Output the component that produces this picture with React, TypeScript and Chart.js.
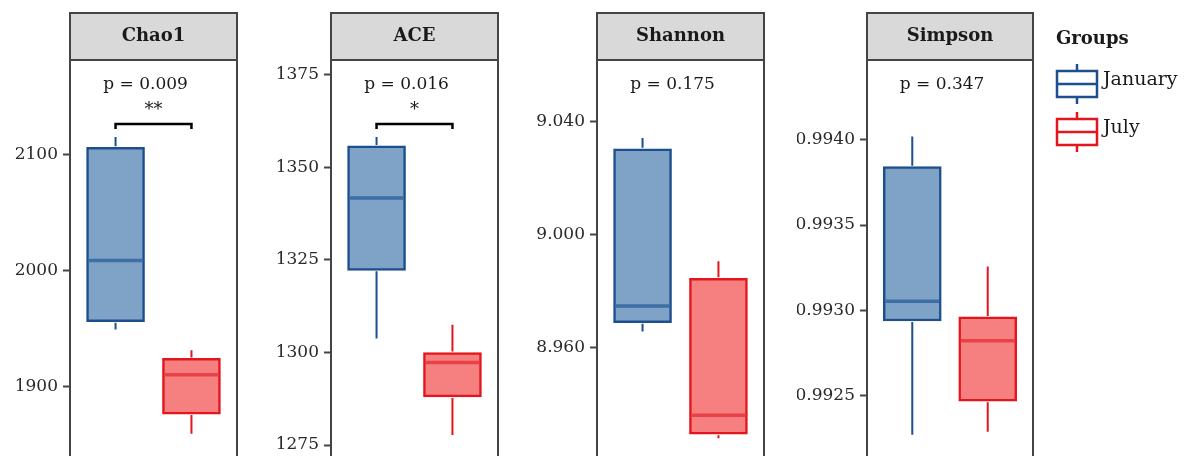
import React, { useEffect, useRef } from 'react';
import { Chart, registerables } from 'chart.js';

Chart.register(...registerables);

// ---------- data ----------
const groups = ['January', 'July'];
const panelTitles = ['Chao1', 'ACE', 'Shannon', 'Simpson'];
const pLabels = ['p = 0.009', 'p = 0.016', 'p = 0.175', 'p = 0.347'];
const signifLabels = ['**', '*', '', ''];

// five-number summaries: [min, q1, median, q3, max]
const chao1Jan = [1949, 1955.7, 2008.5, 2106, 2115];
const chao1Jul = [1859, 1876, 1910, 1924, 1931];
const aceJan = [1303.8, 1322.2, 1341.7, 1355.8, 1358.2];
const aceJul = [1277.7, 1288, 1297.3, 1300, 1307.5];
const shannonJan = [8.9658, 8.9689, 8.9748, 9.0304, 9.0342];
const shannonJul = [8.928, 8.9294, 8.9361, 8.9846, 8.9906];
const simpsonJan = [0.992267, 0.992936, 0.993052, 0.993843, 0.99402];
const simpsonJul = [0.992285, 0.992465, 0.99282, 0.99296, 0.993256];

const chao1Ticks = [1900, 2000, 2100];
const aceTicks = [1275, 1300, 1325, 1350, 1375];
const shannonTicks = [8.96, 9.0, 9.04];
const simpsonTicks = [0.9925, 0.993, 0.9935, 0.994];

const tickDecimals = [0, 0, 3, 4];
const yRanges = [
  [1832.3, 2181.3],
  [1269.67, 1379],
  [8.9186, 9.06183],
  [0.992091, 0.99447],
];

// ---------- styles ----------
const FONT = 'DejaVu Serif';
const janFill = 'rgba(127,163,199,1)';
const janBorder = '#1d4f8e';
const janMedian = '#3d6ea4';
const julFill = 'rgba(246,128,128,1)';
const julBorder = '#e3161d';
const julMedian = '#e84248';
const frameColor = '#444444';

const panels = [
  { title: panelTitles[0], p: pLabels[0], sig: signifLabels[0], jan: chao1Jan, jul: chao1Jul, ticks: chao1Ticks, dec: tickDecimals[0], range: yRanges[0], left: 0, width: 247, padRight: 10 },
  { title: panelTitles[1], p: pLabels[1], sig: signifLabels[1], jan: aceJan, jul: aceJul, ticks: aceTicks, dec: tickDecimals[1], range: yRanges[1], left: 261, width: 247, padRight: 10 },
  { title: panelTitles[2], p: pLabels[2], sig: signifLabels[2], jan: shannonJan, jul: shannonJul, ticks: shannonTicks, dec: tickDecimals[2], range: yRanges[2], left: 527, width: 247, padRight: 10 },
  { title: panelTitles[3], p: pLabels[3], sig: signifLabels[3], jan: simpsonJan, jul: simpsonJul, ticks: simpsonTicks, dec: tickDecimals[3], range: yRanges[3], left: 797, width: 393, padRight: 157, legend: true },
];

function drawLegendIcon(ctx: CanvasRenderingContext2D, x: number, y: number, color: string) {
  const w = 40, h = 26;
  ctx.save();
  ctx.strokeStyle = color;
  ctx.lineWidth = 2.5;
  ctx.fillStyle = '#ffffff';
  ctx.fillRect(x, y, w, h);
  ctx.strokeRect(x, y, w, h);
  ctx.beginPath();
  ctx.moveTo(x, y + h / 2);
  ctx.lineTo(x + w, y + h / 2);
  ctx.moveTo(x + w / 2, y - 7);
  ctx.lineTo(x + w / 2, y);
  ctx.moveTo(x + w / 2, y + h);
  ctx.lineTo(x + w / 2, y + h + 7);
  ctx.stroke();
  ctx.restore();
}

function makePlugin(panel: any) {
  return {
    id: 'boxExtras',
    afterDatasetsDraw(chart: any) {
      const { ctx, chartArea } = chart;
      const xs = chart.scales.x;
      const ys = chart.scales.y;
      const sets = [
        { d: panel.jan, x: 1, border: janBorder, median: janMedian, idx: 0 },
        { d: panel.jul, x: 2, border: julBorder, median: julMedian, idx: 1 },
      ];
      ctx.save();
      sets.forEach((s) => {
        const bar = chart.getDatasetMeta(s.idx).data[0];
        const cx = bar ? bar.x : xs.getPixelForValue(s.x);
        const half = bar ? bar.width / 2 : 29;
        ctx.strokeStyle = s.border;
        ctx.lineWidth = 2;
        ctx.beginPath();
        ctx.moveTo(cx, ys.getPixelForValue(s.d[3]) - 1);
        ctx.lineTo(cx, ys.getPixelForValue(s.d[4]));
        ctx.moveTo(cx, ys.getPixelForValue(s.d[1]) + 1);
        ctx.lineTo(cx, ys.getPixelForValue(s.d[0]));
        ctx.stroke();
        ctx.strokeStyle = s.median;
        ctx.lineWidth = 3.5;
        ctx.beginPath();
        const my = ys.getPixelForValue(s.d[2]);
        ctx.moveTo(cx - half + 2, my);
        ctx.lineTo(cx + half - 2, my);
        ctx.stroke();
      });

      // frame
      ctx.strokeStyle = frameColor;
      ctx.lineWidth = 2;
      ctx.strokeRect(chartArea.left, chartArea.top, chartArea.right - chartArea.left, chartArea.bottom - chartArea.top);

      // strip
      const stripTop = 13;
      ctx.fillStyle = '#d9d9d9';
      ctx.fillRect(chartArea.left, stripTop, chartArea.right - chartArea.left, chartArea.top - stripTop);
      ctx.strokeRect(chartArea.left, stripTop, chartArea.right - chartArea.left, chartArea.top - stripTop);
      ctx.fillStyle = '#1a1a1a';
      ctx.font = `bold 18px "${FONT}"`;
      ctx.textAlign = 'center';
      ctx.textBaseline = 'middle';
      ctx.fillText(panel.title, (chartArea.left + chartArea.right) / 2, 36);

      // p-value text and bracket
      const x1 = xs.getPixelForValue(1);
      const x2 = xs.getPixelForValue(2);
      ctx.fillStyle = '#1a1a1a';
      ctx.font = `17px "${FONT}"`;
      ctx.fillText(panel.p, xs.getPixelForValue(1.395), chartArea.top + 25);
      if (panel.sig) {
        ctx.font = `18px "${FONT}"`;
        ctx.fillText(panel.sig, (x1 + x2) / 2, chartArea.top + 50);
        ctx.strokeStyle = '#000000';
        ctx.lineWidth = 2.5;
        ctx.beginPath();
        const by = chartArea.top + 64;
        ctx.moveTo(x1, by + 5);
        ctx.lineTo(x1, by);
        ctx.lineTo(x2, by);
        ctx.lineTo(x2, by + 5);
        ctx.stroke();
      }

      if (panel.legend) {
        const lx = chartArea.right + 24;
        ctx.textAlign = 'left';
        ctx.fillStyle = '#1a1a1a';
        ctx.font = `bold 18px "${FONT}"`;
        ctx.fillText('Groups', lx - 1, 39);
        drawLegendIcon(ctx, lx, 71, janBorder);
        drawLegendIcon(ctx, lx, 119, julBorder);
        ctx.fillStyle = '#1a1a1a';
        ctx.font = `19px "${FONT}"`;
        ctx.fillText(groups[0], lx + 46, 80);
        ctx.fillText(groups[1], lx + 46, 128);
      }
      ctx.restore();
    },
  };
}

function Panel({ panel }: { panel: any }) {
  const ref = useRef<HTMLCanvasElement | null>(null);
  useEffect(() => {
    if (!ref.current) return;
    const chart = new Chart(ref.current, {
      type: 'bar',
      data: {
        datasets: [
          {
            label: groups[0],
            data: [{ x: 1, y: [panel.jan[1], panel.jan[3]] }] as any,
            backgroundColor: janFill,
            borderColor: janBorder,
            borderWidth: 2.5,
            borderSkipped: false,
            barThickness: 58,
            grouped: false,
          },
          {
            label: groups[1],
            data: [{ x: 2, y: [panel.jul[1], panel.jul[3]] }] as any,
            backgroundColor: julFill,
            borderColor: julBorder,
            borderWidth: 2.5,
            borderSkipped: false,
            barThickness: 58,
            grouped: false,
          },
        ],
      },
      options: {
        animation: false,
        responsive: false,
        maintainAspectRatio: false,
        layout: { padding: { left: 0, right: panel.padRight, top: 60, bottom: 10 } },
        plugins: { legend: { display: false }, tooltip: { enabled: false } },
        scales: {
          x: { type: 'linear', min: 0.4, max: 2.6, offset: false, display: false, grid: { offset: false } },
          y: {
            type: 'linear',
            min: panel.range[0],
            max: panel.range[1],
            afterBuildTicks: (s: any) => {
              s.ticks = panel.ticks.map((v: number) => ({ value: v }));
            },
            afterFit: (s: any) => {
              s.width = 70;
            },
            ticks: {
              callback: (v: any) => Number(v).toFixed(panel.dec),
              color: '#2a2a2a',
              font: { family: FONT, size: 17 },
              padding: 5,
            },
            grid: {
              drawOnChartArea: false,
              drawTicks: true,
              tickLength: 7,
              tickColor: frameColor,
              tickWidth: 2,
            },
            border: { display: false },
          },
        },
      } as any,
      plugins: [makePlugin(panel)],
    });
    return () => chart.destroy();
  }, []);
  return (
    <canvas
      ref={ref}
      width={panel.width}
      height={480}
      style={{ position: 'absolute', left: panel.left, top: 0, width: panel.width, height: 480 }}
    />
  );
}

export default function App() {
  return (
    <div
      style={{
        position: 'fixed',
        left: 0,
        top: 0,
        width: 1190,
        height: 456,
        overflow: 'hidden',
        background: '#ffffff',
      }}
    >
      {panels.map((p, i) => (
        <Panel key={i} panel={p} />
      ))}
    </div>
  );
}
